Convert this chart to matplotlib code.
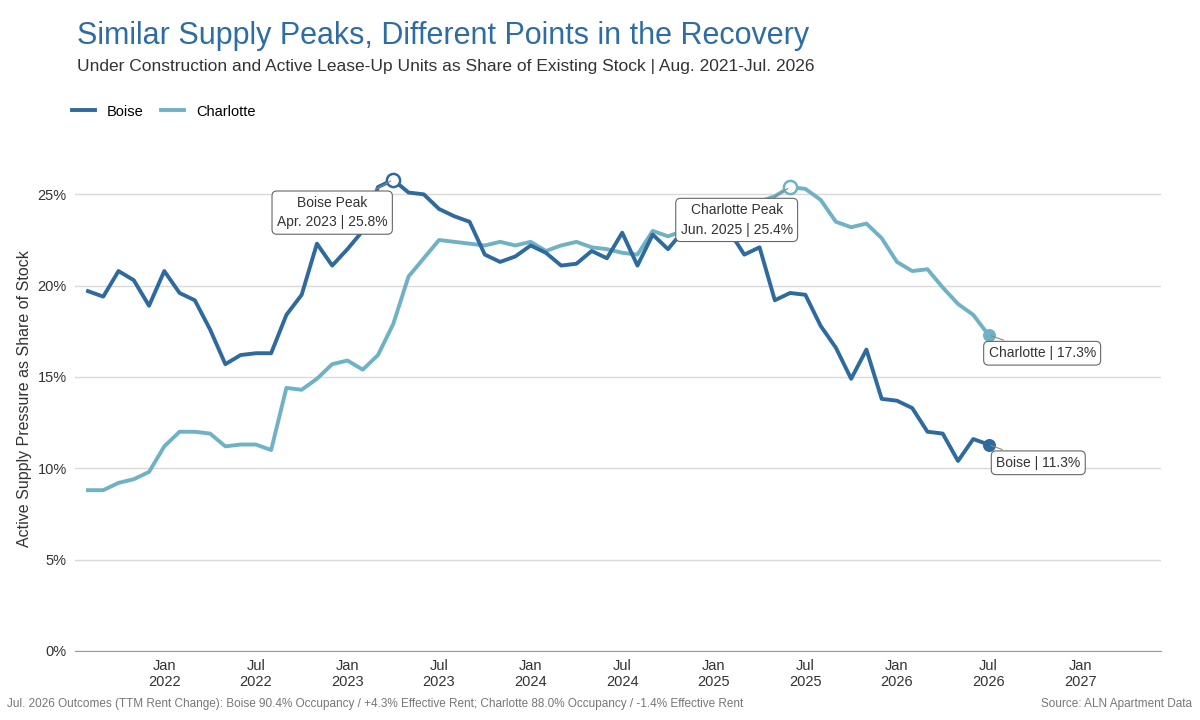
import matplotlib.pyplot as plt
from matplotlib.ticker import FuncFormatter

boise = [19.7, 19.4, 20.8, 20.3, 18.9, 20.8, 19.6, 19.2, 17.6, 15.7,
         16.2, 16.3, 16.3, 18.4, 19.5, 22.3, 21.1, 22.0, 23.0, 25.4,
         25.8, 25.1, 25.0, 24.2, 23.8, 23.5, 21.7, 21.3, 21.6, 22.2,
         21.8, 21.1, 21.2, 21.9, 21.5, 22.9, 21.1, 22.8, 22.0, 23.0,
         23.3, 23.5, 23.0, 21.7, 22.1, 19.2, 19.6, 19.5, 17.8, 16.6,
         14.9, 16.5, 13.8, 13.7, 13.3, 12.0, 11.9, 10.4, 11.6, 11.3]
charlotte = [8.8, 8.8, 9.2, 9.4, 9.8, 11.2, 12.0, 12.0, 11.9, 11.2,
             11.3, 11.3, 11.0, 14.4, 14.3, 14.9, 15.7, 15.9, 15.4, 16.2,
             17.9, 20.5, 21.5, 22.5, 22.4, 22.3, 22.2, 22.4, 22.2, 22.4,
             21.9, 22.2, 22.4, 22.1, 22.0, 21.8, 21.7, 23.0, 22.7, 23.0,
             22.9, 22.6, 22.6, 24.0, 24.6, 24.9, 25.4, 25.3, 24.7, 23.5,
             23.2, 23.4, 22.6, 21.3, 20.8, 20.9, 19.9, 19.0, 18.4, 17.3]
months = list(range(len(boise)))  # 0 = Aug. 2021

BOISE = '#2e6a9e'
CHAR = '#6fb2c5'


def generate_chart():
    plt.rcParams['font.family'] = 'Liberation Sans'
    fig = plt.figure(figsize=(12, 7.2), dpi=100)
    ax = fig.add_axes([0.0625, 0.096, 0.905, 0.70])

    ax.plot(months, boise, color=BOISE, lw=2.8, label='Boise', zorder=3)
    ax.plot(months, charlotte, color=CHAR, lw=2.8, label='Charlotte', zorder=2)

    # Пики
    ax.scatter([20], [boise[20]], s=90, facecolor='white', edgecolor=BOISE, lw=1.8, zorder=5)
    ax.scatter([46], [charlotte[46]], s=90, facecolor='white', edgecolor=CHAR, lw=1.8, zorder=5)
    # Последние точки
    ax.scatter([59], [boise[59]], s=70, color=BOISE, zorder=5)
    ax.scatter([59], [charlotte[59]], s=70, color=CHAR, zorder=5)

    box = dict(boxstyle='round,pad=0.35', fc='white', ec='#666666', lw=0.8)
    arrow = dict(arrowstyle='-', color='#888888', lw=0.8)
    ax.annotate('Boise Peak\nApr. 2023 | 25.8%', xy=(20, boise[20]), xytext=(16, 24.0),
                ha='center', va='center', fontsize=10, color='#333333', bbox=box,
                arrowprops=arrow, linespacing=1.5, zorder=6)
    ax.annotate('Charlotte Peak\nJun. 2025 | 25.4%', xy=(46, charlotte[46]), xytext=(42.5, 23.6),
                ha='center', va='center', fontsize=10, color='#333333', bbox=box,
                arrowprops=arrow, linespacing=1.5, zorder=6)
    ax.annotate('Charlotte | 17.3%', xy=(59, charlotte[59]), xytext=(59, 16.3),
                ha='left', va='center', fontsize=10, color='#333333', bbox=box,
                arrowprops=arrow, zorder=6)
    ax.annotate('Boise | 11.3%', xy=(59, boise[59]), xytext=(59.5, 10.3),
                ha='left', va='center', fontsize=10, color='#333333', bbox=box,
                arrowprops=arrow, zorder=6)

    ax.set_xlim(-0.85, 70.3)
    ax.set_ylim(0, 27.6)
    ax.set_yticks([0, 5, 10, 15, 20, 25])
    ax.yaxis.set_major_formatter(FuncFormatter(lambda v, p: f'{v:.0f}%'))
    ticks = list(range(5, 66, 6))
    labels = []
    for t in ticks:
        yr = 2021 + (t + 7) // 12
        labels.append(('Jan' if (t + 7) % 12 == 0 else 'Jul') + f'\n{yr}')
    ax.set_xticks(ticks)
    ax.set_xticklabels(labels)
    ax.tick_params(axis='both', length=0, labelsize=10.5, colors='#333333', pad=6)
    ax.grid(axis='y', color='#d9d9d9', lw=1)
    ax.set_axisbelow(True)
    for s in ['top', 'right', 'left']:
        ax.spines[s].set_visible(False)
    ax.spines['bottom'].set_color('#999999')
    ax.set_ylabel('Active Supply Pressure as Share of Stock', fontsize=11.5, color='#333333')

    fig.text(0.064, 0.95, 'Similar Supply Peaks, Different Points in the Recovery',
             fontsize=22, color='#2e6da4', va='center')
    fig.text(0.064, 0.908, 'Under Construction and Active Lease-Up Units as Share of Existing Stock | Aug. 2021-Jul. 2026',
             fontsize=12.5, color='#333333', va='center')
    ax.legend(loc='upper left', bbox_to_anchor=(-0.015, 1.11), ncol=2, frameon=False,
              fontsize=10.5, handlelength=1.6, columnspacing=1.2)
    fig.text(0.006, 0.018, 'Jul. 2026 Outcomes (TTM Rent Change): Boise 90.4% Occupancy / +4.3% Effective Rent; '
             'Charlotte 88.0% Occupancy / -1.4% Effective Rent', fontsize=8.5, color='#777777')
    fig.text(0.993, 0.018, 'Source: ALN Apartment Data', fontsize=8.5, color='#777777', ha='right')

    plt.savefig('out.png', dpi=100)
    plt.close()


generate_chart()
